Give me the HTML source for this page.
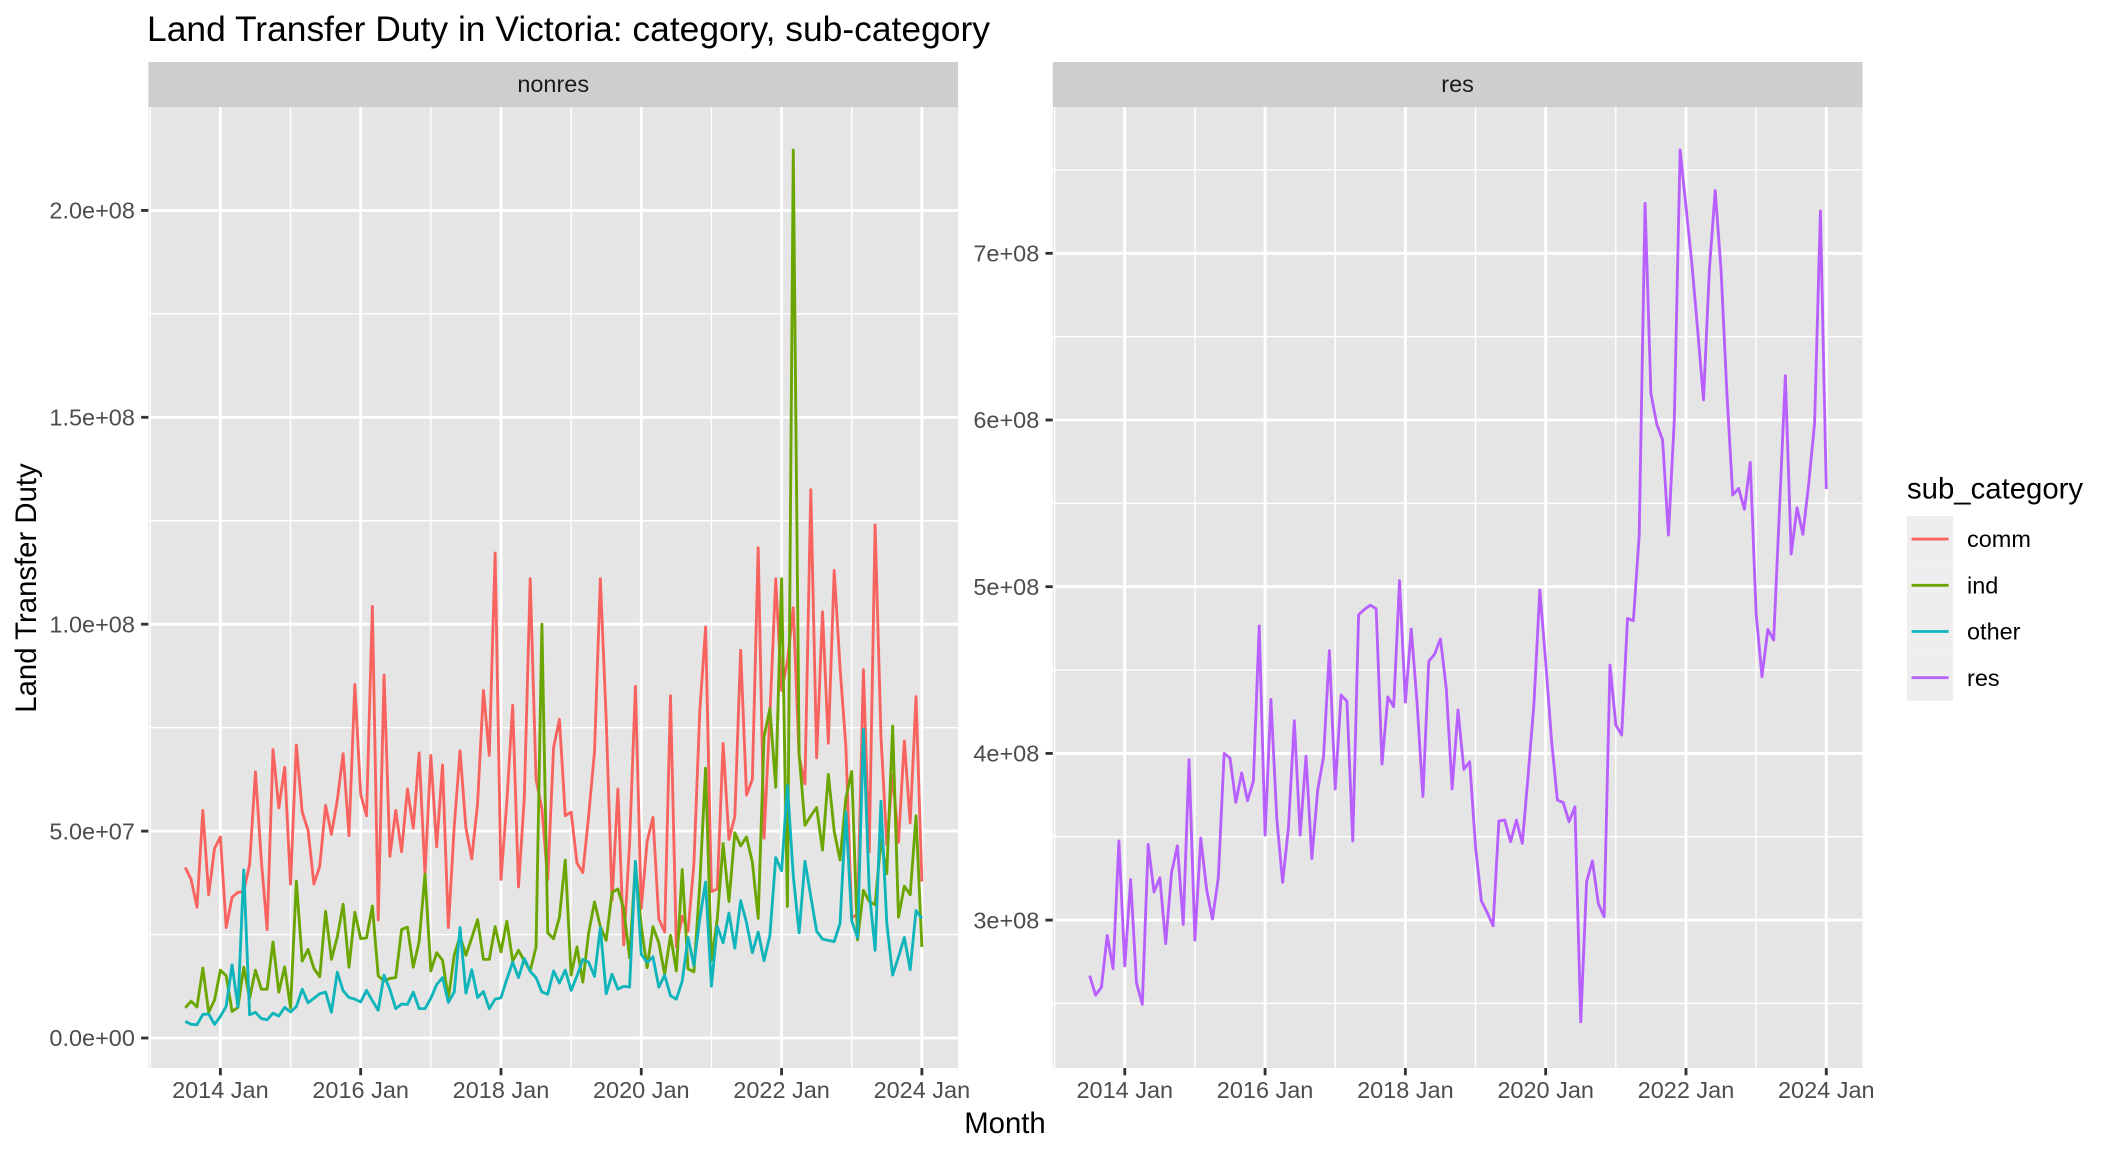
<!DOCTYPE html>
<html lang="en">
<head>
<meta charset="utf-8">
<title>Land Transfer Duty in Victoria</title>
<style>
html,body{margin:0;padding:0;background:#fff;}
svg{display:block;font-family:"Liberation Sans",Arial,sans-serif;}
</style>
</head>
<body>
<svg id="chart" xmlns="http://www.w3.org/2000/svg" width="2112" height="1152" viewBox="0 0 2112 1152">
  <rect x="0" y="0" width="2112" height="1152" fill="#fff"/>
  <text x="147" y="41" font-size="35.42" fill="#000">Land Transfer Duty in Victoria: category, sub-category</text>

  <rect x="148.4" y="62" width="809.7" height="45" fill="#cecece"/>
  <text x="553.2" y="92" font-size="23.47" fill="#1a1a1a" text-anchor="middle">nonres</text>
  <rect x="1052.8" y="62" width="809.7" height="45" fill="#cecece"/>
  <text x="1457.6" y="92" font-size="23.47" fill="#1a1a1a" text-anchor="middle">res</text>

  <rect x="148.4" y="107" width="809.7" height="961" fill="#e5e5e5"/>
  <rect x="1052.8" y="107" width="809.7" height="961" fill="#e5e5e5"/>
  <g id="layer-grid"></g>
  <g id="layer-axes"></g>
  <g id="layer-series"></g>

  <text x="1005" y="1133" font-size="29.33" fill="#000" text-anchor="middle">Month</text>
  <text transform="translate(36,588) rotate(-90)" font-size="29.33" fill="#000" text-anchor="middle">Land Transfer Duty</text>

  <g>
    <text x="1907" y="498.5" font-size="29.33" fill="#000">sub_category</text>
    <rect x="1907" y="516" width="46.2" height="46.2" fill="#eeeeee"/>
    <rect x="1907" y="562.2" width="46.2" height="46.2" fill="#eeeeee"/>
    <rect x="1907" y="608.4" width="46.2" height="46.2" fill="#eeeeee"/>
    <rect x="1907" y="654.6" width="46.2" height="46.2" fill="#eeeeee"/>
    <line x1="1911.6" x2="1948.6" y1="539.1" y2="539.1" stroke="#f9635f" stroke-width="2.85"/>
    <line x1="1911.6" x2="1948.6" y1="585.3" y2="585.3" stroke="#6ba500" stroke-width="2.85"/>
    <line x1="1911.6" x2="1948.6" y1="631.5" y2="631.5" stroke="#0fb5ba" stroke-width="2.85"/>
    <line x1="1911.6" x2="1948.6" y1="677.7" y2="677.7" stroke="#b860ff" stroke-width="2.85"/>
    <text x="1967" y="547.2" font-size="23.47" fill="#000">comm</text>
    <text x="1967" y="593.4" font-size="23.47" fill="#000">ind</text>
    <text x="1967" y="639.6" font-size="23.47" fill="#000">other</text>
    <text x="1967" y="685.8" font-size="23.47" fill="#000">res</text>
  </g>
</svg>
<script>
// Chart data: monthly values in millions of dollars, Jul 2013 to Jan 2024.
var startYear = 2013;
var startMonth = 7;
var xTickLabels = ["2014 Jan","2016 Jan","2018 Jan","2020 Jan","2022 Jan","2024 Jan"];
var yTicksNonres = [0,50,100,150,200];
var yLabelsNonres = ["0.0e+00","5.0e+07","1.0e+08","1.5e+08","2.0e+08"];
var yTicksRes = [300,400,500,600,700];
var yLabelsRes = ["3e+08","4e+08","5e+08","6e+08","7e+08"];

var comm = [41.2,38.3,31.6,55,34.6,45.8,48.6,26.7,34,35.2,35.4,42,64.3,43,26.2,69.7,55.6,65.4,37.2,70.8,
54.6,50.2,37.2,41.5,56.2,49.2,57.5,68.7,48.9,85.4,58.9,53.7,104.3,28.5,87.7,43.9,55,45,60.2,50.7,
68.9,39.6,68.3,46.2,66,26.7,51,69.4,50.8,43.3,56.7,84,68.3,117.2,38.3,57,80.4,36.5,58.3,111,
62.5,55.4,38.3,70.2,77,53.7,54.6,42.3,40,53.7,69.2,111,77,33.3,60.2,22.5,47,85,31.3,47.5,
53.3,28.8,25.6,82.7,22,29.4,25.8,42,78.7,99.3,35.4,36,71.2,48,53.5,93.7,58.7,62.5,118.5,48.3,
78,111,84,91,104,67.9,61.4,132.5,67.7,103,71.2,113,89.6,70.4,29,30,89,45,124,72.9,
46.7,63.7,47.3,71.8,52,82.5,37.8];

var ind = [7.3,8.9,7.5,16.9,6.2,9.2,16.4,15,6.4,7.4,17.1,9.6,16.4,11.8,11.8,23.2,11.1,17.2,7.3,37.9,
18.6,21.4,16.8,14.8,30.6,19,24.4,32.3,17.1,30.4,24,24.2,31.9,15,13.8,14.4,14.6,26.2,26.8,17.1,
23.3,39.6,16.2,20.6,18.8,9.6,20,24.6,20,24.2,28.6,19,19,26.9,20.8,28.2,18.6,21.2,18.6,16.2,
22,100,25.4,24,29.2,43,15.2,22,13.5,25.4,32.9,26.9,23.6,35.2,36,31.2,19.4,42,27,17,
26.9,23,15.4,24.8,16.2,40.7,16.7,16,37,65.2,18.7,28.7,47,33,49.6,46.4,48.6,42.5,28.9,72.7,
79.6,60.6,111,31.8,214.6,68.7,51.4,53.7,55.7,45.4,63.7,50,43,57.9,64.4,23.7,35.7,33,32.2,47.9,
39.7,75.4,29.2,36.7,34.6,53.7,22];

var other = [4,3.3,3.2,5.7,5.8,3.3,5.2,7.7,17.7,7.5,40.6,5.6,6.2,4.7,4.4,6,5.3,7.4,6.3,7.6,
11.8,8.5,9.6,10.7,11.1,6.2,15.9,11.4,9.8,9.4,8.7,11.5,9,6.7,15.2,11.7,7.1,8.2,8.1,11.1,
7.1,7.1,9.6,12.9,14.6,8.6,11.1,26.7,10.8,16.5,9.8,11.2,7.1,9.4,9.7,14.2,18.3,14.6,19.2,16.1,
14.6,11.1,10.6,16.2,13.3,16.4,11.5,15,19,18.3,14.9,26.7,10.7,15.4,11.8,12.5,12.3,42.7,20.2,18.3,
19.6,12.3,15.2,10.2,9.4,13.7,24.3,17.5,28.7,37.7,12.5,27,23,30.2,21.7,33.2,27.9,20.6,25.6,18.7,
24.8,43.6,40.4,61,39.2,25.4,42.7,34.2,25.8,23.9,23.6,23.3,27.7,54.7,28.3,24.2,74.6,35.4,21.2,57.2,
27.7,15.2,19.6,24.3,16.5,30.8,28.9];

var res = [266.7,255,259.7,290.8,270.8,347.5,272.5,324.3,262.3,249.5,345.4,316.8,325.4,285.9,328.4,344.6,297.4,396.2,288,349.3,
318.3,300.6,325.4,400,397.2,370.6,388.3,371.6,383.4,476.5,351,432.4,361,322.6,355.6,419.6,351,398.3,336.9,378,
397.9,461.6,378.7,435,431.3,347.5,483.2,486.4,488.9,486.8,393.6,433.9,428,503.6,430.7,474.6,430.3,374.2,455.2,459.5,
468.7,438.8,378.7,426,390.4,395,344,311.5,304.5,296.6,359.5,360,347,360,346,387,430,498,455,408,
372,370.5,359,368,239,323,335.5,310,302,453,417,411,481,479.6,531,730,616,597.6,588,531,
600,762,728,694,654,612,690,737.6,690,616,555,559,546.4,574.6,484,446,474.4,468,547,626.6,
519.6,547.4,531.4,562,598,725.4,558.6];

var SVGNS = 'http://www.w3.org/2000/svg';
var gridLayer = document.getElementById('layer-grid');
var axesLayer = document.getElementById('layer-axes');
var seriesLayer = document.getElementById('layer-series');

var panelTop = 107, panelBottom = 1068, panelWidth = 809.7;
var pxPerMonth = 140.3 / 24;

function monthsFromStart(year, month) {
  return (year - startYear) * 12 + (month - startMonth);
}
function xAxis(panelLeft) {
  return function (monthIndex) {
    return panelLeft + 36.9 + monthIndex * pxPerMonth;
  };
}
function yAxisNonres(v) { return 1038 - v * 4.138; }
function yAxisRes(v) { return 586.7 - (v - 500) * 1.667; }

function drawLine(parent, x1, y1, x2, y2, stroke, width) {
  var el = document.createElementNS(SVGNS, 'line');
  el.setAttribute('x1', x1);
  el.setAttribute('y1', y1);
  el.setAttribute('x2', x2);
  el.setAttribute('y2', y2);
  el.setAttribute('stroke', stroke);
  el.setAttribute('stroke-width', width);
  parent.appendChild(el);
  return el;
}
function drawText(parent, x, y, str, anchor) {
  var el = document.createElementNS(SVGNS, 'text');
  el.setAttribute('x', x);
  el.setAttribute('y', y);
  el.setAttribute('font-size', '23.47');
  el.setAttribute('fill', '#4d4d4d');
  el.setAttribute('text-anchor', anchor);
  el.textContent = str;
  parent.appendChild(el);
  return el;
}

function drawPanel(panelName, panelLeft, yAxis, yTicks, yLabels) {
  var x = xAxis(panelLeft);
  var right = panelLeft + panelWidth;
  var i, el, px, py;
  var yStep = yTicks[1] - yTicks[0];

  // minor horizontal grid, midway between major ticks
  for (i = -1; i < yTicks.length; i++) {
    py = yAxis(yTicks[0] + (i + 0.5) * yStep);
    if (py > panelTop && py < panelBottom) {
      el = drawLine(gridLayer, panelLeft, py, right, py, '#fff', 1.42);
      
      
    }
  }
  // x ticks, labels and grid
  var tickIdx = xTickLabels.map(function (label) {
    return monthsFromStart(parseInt(label, 10), 1);
  });
  for (i = -1; i < tickIdx.length; i++) {
    px = x(monthsFromStart(parseInt(xTickLabels[0], 10) - 1 + (i + 1) * 2, 1));
    if (px > panelLeft && px < right) {
      el = drawLine(gridLayer, px, panelTop, px, panelBottom, '#fff', 1.42);
      
      
    }
  }
  // major horizontal grid, y ticks and labels
  yTicks.forEach(function (v, k) {
    var yy = yAxis(v);
    var g = drawLine(gridLayer, panelLeft, yy, right, yy, '#fff', 2.85);
    
    
    var t = drawLine(axesLayer, panelLeft - 7.3, yy, panelLeft, yy, '#333', 2.85);
    
    
    var l = drawText(axesLayer, panelLeft - 13.5, yy + 8.2, yLabels[k], 'end');
    
    
  });
  // major vertical grid, x ticks and labels
  tickIdx.forEach(function (m, k) {
    var xx = x(m);
    var g = drawLine(gridLayer, xx, panelTop, xx, panelBottom, '#fff', 2.85);
    
    
    var t = drawLine(axesLayer, xx, panelBottom, xx, panelBottom + 7.3, '#333', 2.85);
    
    
    var l = drawText(axesLayer, xx, panelBottom + 30, xTickLabels[k], 'middle');
    
    
  });
}

function drawSeries(seriesName, values, panelLeft, yAxis, color) {
  var x = xAxis(panelLeft);
  var pts = values.map(function (v, i) {
    return x(i).toFixed(2) + ',' + yAxis(v).toFixed(2);
  }).join(' ');
  var el = document.createElementNS(SVGNS, 'polyline');
  el.setAttribute('points', pts);
  el.setAttribute('fill', 'none');
  el.setAttribute('stroke', color);
  el.setAttribute('stroke-width', '2.85');
  el.setAttribute('stroke-linejoin', 'round');
  el.setAttribute('stroke-linecap', 'butt');
  
  
  seriesLayer.appendChild(el);
}

drawPanel('nonres', 148.4, yAxisNonres, yTicksNonres, yLabelsNonres);
drawPanel('res', 1052.8, yAxisRes, yTicksRes, yLabelsRes);
drawSeries('comm', comm, 148.4, yAxisNonres, '#f9635f');
drawSeries('ind', ind, 148.4, yAxisNonres, '#6ba500');
drawSeries('other', other, 148.4, yAxisNonres, '#0fb5ba');
drawSeries('res', res, 1052.8, yAxisRes, '#b860ff');
</script>
</body>
</html>
